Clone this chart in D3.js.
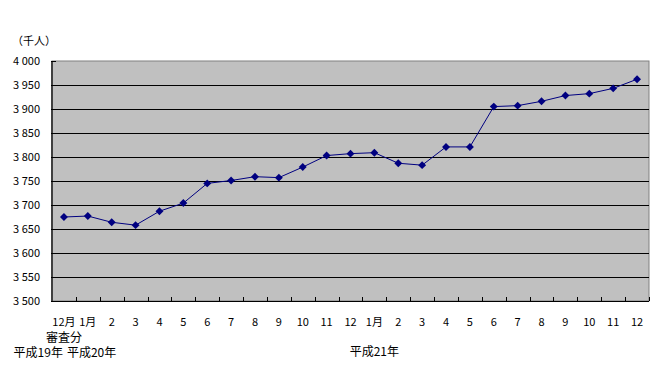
<!DOCTYPE html>
<html>
<head>
<meta charset="utf-8">
<script src="https://cdn.jsdelivr.net/npm/d3@7"></script>
<style>
	body { margin: 0; background: #fff; }
	text { font-family: "Noto Sans CJK JP", "DejaVu Sans", sans-serif; font-size: 11px; fill: #000; }
	text.big { font-size: 12px; }
</style>
</head>
<body>
<div class="chart"></div>
<script>
// months: 平成19年12月審査分, 平成20年1-12月, 平成21年1-12月
const monthLabels = ['12月', '1月', '2', '3', '4', '5', '6', '7', '8', '9', '10', '11', '12',
	'1月', '2', '3', '4', '5', '6', '7', '8', '9', '10', '11', '12'];
const values = [3675, 3677, 3664, 3658, 3687, 3704, 3745, 3751, 3759, 3757, 3779, 3803, 3807,
	3809, 3787, 3783, 3821, 3821, 3905, 3907, 3916, 3928, 3932, 3943, 3962];
const yTicks = [3500, 3550, 3600, 3650, 3700, 3750, 3800, 3850, 3900, 3950, 4000];
const yearLabels = ['平成19年', '平成20年', '平成21年'];

const width = 672, height = 373;
const margin = ({top: 61, right: 23, bottom: 72, left: 52});
const innerW = width - margin.left - margin.right;
const innerH = height - margin.top - margin.bottom;

const svg = d3.select('.chart')
	.append('svg')
	.attr('width', width)
	.attr('height', height);

const g = svg.append('g')
	.attr('transform', 'translate(' + margin.left + ',' + margin.top + ')');

const x = d3.scaleBand()
	.domain(d3.range(values.length))
	.range([0, innerW]);

const y = d3.scaleLinear()
	.domain([3500, 4000])
	.range([innerH, 0]);

// plot background
g.append('rect')
	.attr('width', innerW)
	.attr('height', innerH)
	.attr('fill', '#c0c0c0')
	.attr('stroke', '#808080')
	.attr('stroke-width', 1);

// gridlines
g.selectAll('line.grid')
	.data(yTicks.slice(1, -1))
	.enter()
	.append('line')
	.attr('class', 'grid')
	.attr('x1', 0)
	.attr('x2', innerW)
	.attr('y1', d => Math.round(y(d)) + 0.5)
	.attr('y2', d => Math.round(y(d)) + 0.5)
	.attr('stroke', '#000');

// y axis
g.append('line')
	.attr('x1', 0).attr('x2', 0)
	.attr('y1', 0).attr('y2', innerH)
	.attr('stroke', '#404040')
	.attr('stroke-width', 2);

g.selectAll('line.ytick')
	.data(yTicks)
	.enter()
	.append('line')
	.attr('x1', -1).attr('x2', 4)
	.attr('y1', d => Math.round(y(d)) + 0.5)
	.attr('y2', d => Math.round(y(d)) + 0.5)
	.attr('stroke', '#000');

const fmt = d => { const s = String(d); return s[0] + ' ' + s.slice(1); };
g.selectAll('text.ylab')
	.data(yTicks)
	.enter()
	.append('text')
	.attr('x', -12)
	.attr('y', d => y(d))
	.attr('dy', '0.35em')
	.attr('text-anchor', 'end')
	.text(fmt);

// x axis
g.append('line')
	.attr('x1', 0).attr('x2', innerW)
	.attr('y1', innerH + 0.5).attr('y2', innerH + 0.5)
	.attr('stroke', '#000');

g.selectAll('line.xtick')
	.data(d3.range(1, values.length + 1))
	.enter()
	.append('line')
	.attr('x1', d => Math.round(d * x.bandwidth()) + 0.5)
	.attr('x2', d => Math.round(d * x.bandwidth()) + 0.5)
	.attr('y1', innerH)
	.attr('y2', innerH - 4)
	.attr('stroke', '#000');

g.selectAll('text.xlab')
	.data(monthLabels)
	.enter()
	.append('text')
	.attr('x', (d, i) => x(i) + x.bandwidth() / 2)
	.attr('y', innerH + 21)
	.attr('dy', '0.35em')
	.attr('text-anchor', 'middle')
	.text(d => d);

g.append('text')
	.attr('class', 'big')
	.attr('x', x(0) + x.bandwidth() / 2)
	.attr('y', innerH + 37)
	.attr('dy', '0.35em')
	.attr('text-anchor', 'middle')
	.text('審査分');

// year labels: 19年 ends before 20年, 20年 starts under 12月, 21年 centred under 1月
g.append('text')
	.attr('class', 'big')
	.attr('x', x(1) - 13)
	.attr('y', innerH + 52)
	.attr('dy', '0.35em')
	.attr('text-anchor', 'end')
	.text(yearLabels[0]);

g.append('text')
	.attr('class', 'big')
	.attr('x', x(1) - 9)
	.attr('y', innerH + 52)
	.attr('dy', '0.35em')
	.attr('text-anchor', 'start')
	.text(yearLabels[1]);

g.append('text')
	.attr('class', 'big')
	.attr('x', x(13) + x.bandwidth() / 2)
	.attr('y', innerH + 51)
	.attr('dy', '0.35em')
	.attr('text-anchor', 'middle')
	.text(yearLabels[2]);

// unit
svg.append('text')
	.attr('x', 12)
	.attr('y', 41)
	.attr('dy', '0.35em')
	.text('（千人）');

// line + markers
const line = d3.line()
	.x((d, i) => x(i) + x.bandwidth() / 2)
	.y(d => y(d));

g.append('path')
	.datum(values)
	.attr('d', line)
	.attr('fill', 'none')
	.attr('stroke', '#000080')
	.attr('stroke-width', 1);

g.selectAll('path.marker')
	.data(values)
	.enter()
	.append('path')
	.attr('d', d3.symbol().type(d3.symbolDiamond2).size(40))
	.attr('transform', (d, i) => 'translate(' + (x(i) + x.bandwidth() / 2) + ',' + y(d) + ')')
	.attr('fill', '#000080');
</script>
</body>
</html>
